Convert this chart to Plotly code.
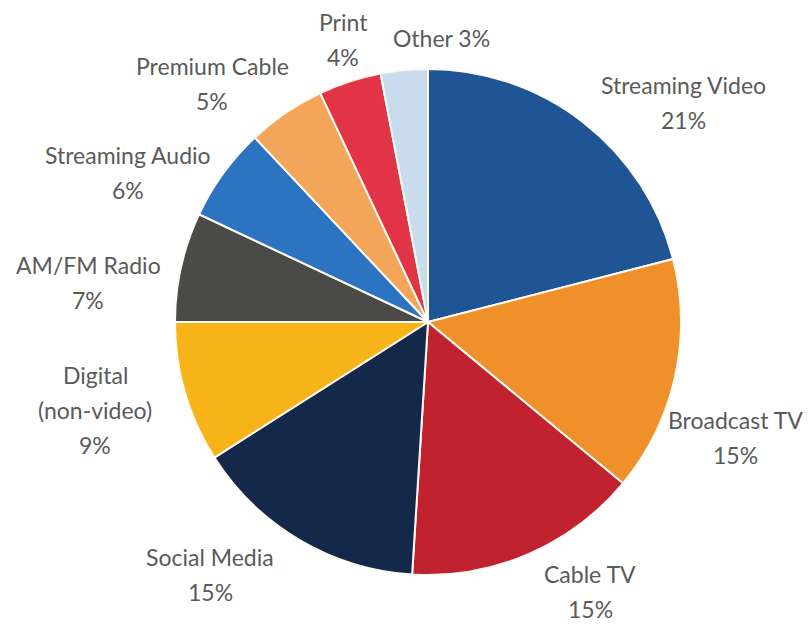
import plotly.graph_objects as go

categories = ["Streaming Video", "Broadcast TV", "Cable TV", "Social Media",
              "Digital (non-video)", "AM/FM Radio", "Streaming Audio",
              "Premium Cable", "Print", "Other"]
values = [21, 15, 15, 15, 9, 7, 6, 5, 4, 3]
colors = ["#1f5495", "#f0902a", "#c0222f", "#14284a", "#f6b418",
          "#4a4a48", "#2c73c2", "#f3a659", "#e13446", "#c8dcee"]

# label text lines (display) and placement (pixel centre of first line)
label_lines = [["Streaming Video", "21%"], ["Broadcast TV", "15%"], ["Cable TV", "15%"],
               ["Social Media", "15%"], ["Digital", "(non-video)", "9%"],
               ["AM/FM Radio", "7%"], ["Streaming Audio", "6%"],
               ["Premium Cable", "5%"], ["Print", "4%"], ["Other 3%"]]
label_pos = [(683, 85), (735, 420), (590, 574), (210, 557), (95, 375),
             (88, 265), (128, 155), (212, 66), (343, 22), (441, 38)]
line_gap = 35

W, H = 809, 626
cx, cy, r = 428, 322, 253

fig = go.Figure(go.Pie(
    labels=categories, values=values, sort=False, direction="clockwise",
    rotation=0, marker=dict(colors=colors, line=dict(color="#fdfbf2", width=2)),
    textinfo="none", hoverinfo="label+percent", showlegend=False,
    domain=dict(x=[(cx - r) / W, (cx + r) / W], y=[1 - (cy + r) / H, 1 - (cy - r) / H]),
))

ann = []
for lines, (px, py) in zip(label_lines, label_pos):
    for i, t in enumerate(lines):
        ann.append(dict(x=px / W, y=1 - (py + i * line_gap) / H, xref="paper", yref="paper",
                        text=t, showarrow=False, xanchor="center", yanchor="middle",
                        font=dict(family="Lato", size=23, color="#5a5a5a")))

fig.update_layout(width=W, height=H, margin=dict(l=0, r=0, t=0, b=0),
                  paper_bgcolor="white", plot_bgcolor="white", annotations=ann)
fig.write_html("out.html")
